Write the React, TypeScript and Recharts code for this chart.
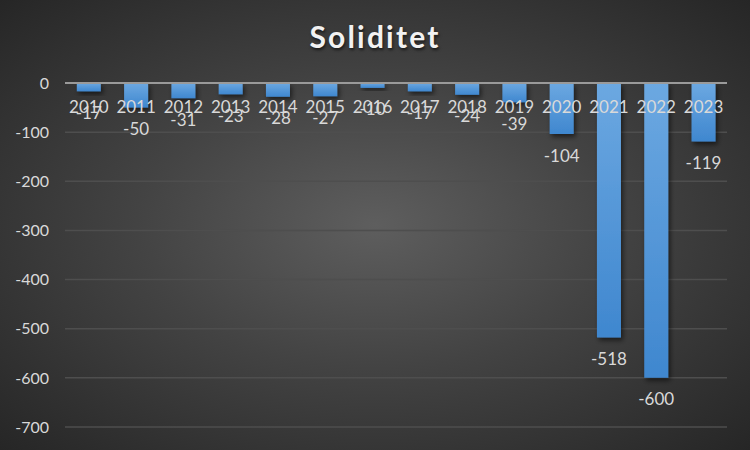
import React from 'react';
import { BarChart, Bar, XAxis, YAxis, CartesianGrid, ReferenceLine, LabelList, Rectangle } from 'recharts';

const years = ['2010', '2011', '2012', '2013', '2014', '2015', '2016', '2017', '2018', '2019', '2020', '2021', '2022', '2023'];
const soliditet = [-17, -50, -31, -23, -28, -27, -10, -17, -24, -39, -104, -518, -600, -119];
const yTicks = [0, -100, -200, -300, -400, -500, -600, -700];

const data = years.map((y, i) => ({ year: y, value: soliditet[i] }));

const FONT = 'Lato, "Open Sans", sans-serif';
const TXT = '#d9d9d9';

function box(props: any) {
  const vb = props.viewBox || {};
  const x = props.x ?? vb.x;
  const y = props.y ?? vb.y;
  const width = props.width ?? vb.width;
  const height = props.height ?? vb.height;
  return { x: Number(x), y: Number(y), width: Number(width), height: Number(height) };
}

const valueLabel = (props: any) => {
  const { x, y, width, height } = box(props);
  const bottom = Math.max(y, y + height);
  return (
    <text x={x + width / 2} y={bottom + 21} textAnchor="middle" dominantBaseline="central" fill={TXT} fontSize={17} fontFamily={FONT}>
      {props.value}
    </text>
  );
};

const yearLabel = (props: any) => {
  const { x, y, width, height } = box(props);
  const top = Math.min(y, y + height);
  return (
    <text x={x + width / 2} y={top + 23} textAnchor="middle" dominantBaseline="central" fill={TXT} fontSize={17} fontFamily={FONT}>
      {props.value}
    </text>
  );
};

const BarShape = (props: any) => <Rectangle {...props} fill="url(#barGrad)" filter="url(#barShadow)" />;

export default function App() {
  return (
    <div
      style={{
        position: 'absolute',
        left: 0,
        top: 0,
        width: 750,
        height: 450,
        background: 'radial-gradient(ellipse at 50% 50%, #5e5e5e 0%, #434343 45%, #262626 100%)',
        overflow: 'hidden',
      }}
    >
      <div
        style={{
          position: 'absolute',
          left: 0,
          top: 17,
          width: 750,
          textAlign: 'center',
          color: '#f2f2f2',
          fontFamily: FONT,
          fontWeight: 700,
          fontSize: 30,
          letterSpacing: 2.2,
          lineHeight: '38px',
          textShadow: '1px 2px 3px rgba(0,0,0,0.6)',
        }}
      >
        Soliditet
      </div>
      <BarChart
        width={750}
        height={450}
        data={data}
        margin={{ top: 83, right: 23, bottom: 23, left: 0 }}
        barCategoryGap="25%"
        style={{ position: 'absolute', left: 0, top: 0 }}
      >
        <defs>
          <linearGradient id="barGrad" x1="0" y1="0" x2="0" y2="1">
            <stop offset="0%" stopColor="#6ca8e1" />
            <stop offset="100%" stopColor="#3f87cf" />
          </linearGradient>
          <filter id="barShadow" x="-30%" y="-30%" width="180%" height="180%">
            <feDropShadow dx="2" dy="3" stdDeviation="2.5" floodColor="#000" floodOpacity="0.55" />
          </filter>
        </defs>
        <CartesianGrid vertical={false} stroke="#4e4e4e" strokeWidth={1.5} />
        <XAxis dataKey="year" hide />
        <YAxis
          domain={[-700, 0]}
          ticks={yTicks}
          interval={0}
          axisLine={false}
          tickLine={false}
          tickSize={0}
          tickMargin={16}
          width={65}
          tick={{ fill: TXT, fontSize: 16, fontFamily: FONT }}
        />
        <Bar dataKey="value" isAnimationActive={false} shape={BarShape}>
          <LabelList dataKey="value" content={valueLabel} />
          <LabelList dataKey="year" content={yearLabel} />
        </Bar>
        <ReferenceLine y={0} stroke="#9a9a9a" strokeWidth={2} />
      </BarChart>
    </div>
  );
}
